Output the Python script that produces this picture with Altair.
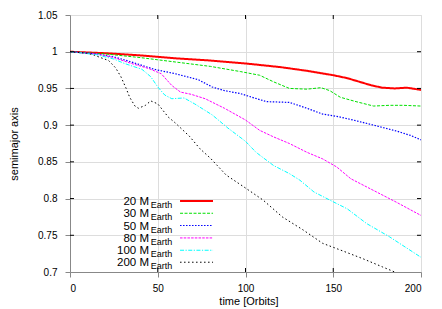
import altair as alt
import pandas as pd

# ---------------- data ----------------
series = ["20", "30", "50", "80", "100", "200"]
colors = ["#ff0000", "#00e000", "#0000ff", "#ff00ff", "#00ffff", "#000000"]

t20 = [0, 20, 40, 60, 80, 100, 120, 135, 150, 158, 165, 172, 178, 185, 192, 200]
a20 = [1.0, 0.998, 0.995, 0.991, 0.988, 0.984, 0.979, 0.974, 0.968, 0.964, 0.959, 0.954, 0.951, 0.950, 0.951, 0.948]

t30 = [0, 20, 40, 50, 60, 80, 97, 108, 116, 125, 135, 143, 148, 154, 163, 173, 182, 190, 200]
a30 = [1.0, 0.997, 0.992, 0.989, 0.986, 0.980, 0.973, 0.968, 0.959, 0.950, 0.949, 0.951, 0.947, 0.938, 0.932, 0.926, 0.927, 0.927, 0.926]

t50 = [0, 15, 25, 35, 48, 60, 73, 81, 88, 97, 105, 112, 125, 135, 144, 154, 163, 173, 186, 194, 200]
a50 = [1.0, 0.997, 0.993, 0.986, 0.976, 0.970, 0.962, 0.952, 0.947, 0.943, 0.937, 0.932, 0.931, 0.923, 0.915, 0.911, 0.906, 0.900, 0.892, 0.886, 0.880]

t80 = [0, 15, 25, 35, 45, 52, 58, 63, 69, 77, 88, 100, 108, 116, 125, 135, 144, 152, 160, 173, 186, 200]
a80 = [1.0, 0.997, 0.992, 0.984, 0.977, 0.970, 0.954, 0.945, 0.942, 0.936, 0.923, 0.907, 0.893, 0.884, 0.875, 0.863, 0.854, 0.843, 0.827, 0.811, 0.795, 0.777]

t100 = [0, 15, 25, 31, 41, 46, 50, 54, 58, 65, 71, 81, 90, 100, 106, 116, 125, 131, 139, 148, 158, 169, 182, 200]
a100 = [1.0, 0.996, 0.990, 0.984, 0.976, 0.966, 0.952, 0.941, 0.936, 0.937, 0.929, 0.914, 0.896, 0.878, 0.863, 0.845, 0.834, 0.825, 0.809, 0.798, 0.786, 0.766, 0.748, 0.720]

t200 = [0, 10, 14, 22, 26, 29, 32, 34, 37, 39, 43, 46, 50, 56, 60, 68, 74, 80, 89, 99, 110, 121, 133, 144, 154, 167, 178, 185, 200]
a200 = [1.0, 0.998, 0.995, 0.988, 0.978, 0.966, 0.950, 0.938, 0.926, 0.923, 0.927, 0.933, 0.929, 0.911, 0.903, 0.885, 0.868, 0.855, 0.832, 0.816, 0.798, 0.775, 0.757, 0.739, 0.730, 0.718, 0.707, 0.700, 0.683]

x_ticks = [0, 50, 100, 150, 200]
y_ticks = [0.7, 0.75, 0.8, 0.85, 0.9, 0.95, 1.0, 1.05]

# ---------------- styles ----------------
dashes = [[1, 0], [3, 1.5], [1.5, 1.5], [2.5, 1.2], [4, 1.5, 1.2, 1.5], [1.5, 2.5]]
widths = [2, 1, 1.2, 1, 1, 1]
FONT = "Liberation Sans"
W, H = 351, 257

ts_all = [t20, t30, t50, t80, t100, t200]
as_all = [a20, a30, a50, a80, a100, a200]

# legend rows placed in data coordinates
leg_y = [0.7968, 0.7800, 0.7633, 0.7464, 0.7296, 0.7133]
LX1, LX2, TX, SX = 62.7, 81.5, 45.0, 46.0

xsc = alt.Scale(domain=[0, 200], nice=False)
ysc = alt.Scale(domain=[0.7, 1.05], nice=False, zero=False)
xax = alt.Axis(values=x_ticks, title="time [Orbits]", labelPadding=6, titleY=32, titleX=W / 2 + 3,
               titleBaseline="alphabetic", titleFontWeight="normal")
yax = alt.Axis(values=y_ticks, format="~g", title="semimajor axis", labelPadding=8, titleX=-56,
               titleY=H / 2, titleBaseline="middle", titleAngle=-90, titleFontWeight="normal")


def X(field):
    return alt.X(field, scale=xsc, axis=xax, title="time [Orbits]")


def Y(field):
    return alt.Y(field, scale=ysc, axis=yax, title="semimajor axis")


layers = []
for i, s in enumerate(series):
    d = pd.DataFrame({"t": ts_all[i], "a": as_all[i]})
    layers.append(
        alt.Chart(d).mark_line(clip=True, color=colors[i], strokeDash=dashes[i], strokeWidth=widths[i]).encode(
            x=X("t:Q"), y=Y("a:Q"))
    )
    ld = pd.DataFrame({"t": [LX1], "t2": [LX2], "a": [leg_y[i]]})
    layers.append(
        alt.Chart(ld).mark_rule(color=colors[i], strokeDash=dashes[i], strokeWidth=widths[i]).encode(
            x=X("t:Q"), x2="t2:Q", y=Y("a:Q"))
    )

leg = pd.DataFrame({"t": [TX] * 6, "ts": [SX] * 6, "a": leg_y, "label": [s + " M" for s in series]})
layers.append(alt.Chart(leg).mark_text(align="right", baseline="alphabetic", dy=4, fontSize=11.5, font=FONT,
                                       color="#000").encode(x=X("t:Q"), y=Y("a:Q"), text="label:N"))
layers.append(alt.Chart(leg).mark_text(align="left", baseline="alphabetic", dy=7, fontSize=9, font=FONT,
                                       color="#000").encode(x=X("ts:Q"), y=Y("a:Q"), text=alt.value("Earth")))

xt = pd.DataFrame({"t": x_ticks[1:-1]})
yt = pd.DataFrame({"a": y_ticks[1:-1]})
layers.append(alt.Chart(xt).mark_rule(color="#000").encode(x=X("t:Q"), y=alt.value(H), y2=alt.value(H - 4)))
layers.append(alt.Chart(xt).mark_rule(color="#000").encode(x=X("t:Q"), y=alt.value(0), y2=alt.value(4)))
layers.append(alt.Chart(yt).mark_rule(color="#000").encode(y=Y("a:Q"), x=alt.value(0), x2=alt.value(4)))
layers.append(alt.Chart(yt).mark_rule(color="#000").encode(y=Y("a:Q"), x=alt.value(W), x2=alt.value(W - 4)))

chart = alt.layer(*layers).properties(
    width=W, height=H,
    autosize=alt.AutoSizeParams(type="none"),
    padding={"left": 62, "top": 7, "right": 13, "bottom": 35},
).configure_view(stroke="#808080", strokeWidth=1).configure_axis(
    domain=False, ticks=False, grid=False, labelFont=FONT, titleFont=FONT,
    labelFontSize=11, titleFontSize=11, labelColor="#000", titleColor="#000", titleFontWeight="normal",
).configure(background="white")

chart.save("out.html", embed_options={"renderer": "svg", "actions": False})
